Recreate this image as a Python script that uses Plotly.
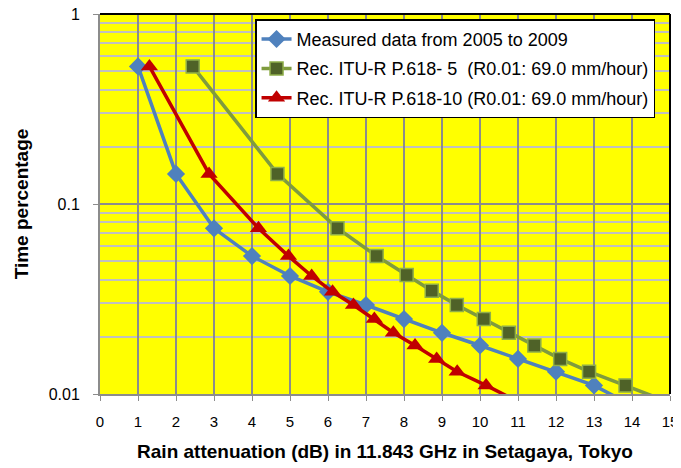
import plotly.graph_objects as go

# ---- data ----
measured_att = [1, 2, 3, 4, 5, 6, 7, 8, 9, 10, 11, 12, 13, 14]
measured_pct = [0.53, 0.144, 0.0745, 0.0532, 0.0418, 0.0345, 0.0294, 0.0248, 0.021, 0.018, 0.0153, 0.0131, 0.0111, 0.0087]

itu5_att = [2.44, 4.67, 6.25, 7.28, 8.07, 8.73, 9.39, 10.1, 10.76, 11.43, 12.11, 12.87, 13.83, 15.2]
itu5_pct = [0.53, 0.144, 0.0745, 0.0532, 0.0423, 0.035, 0.0294, 0.0248, 0.021, 0.018, 0.0153, 0.0131, 0.0111, 0.0087]

itu10_att = [1.30, 2.87, 4.17, 4.96, 5.57, 6.12, 6.67, 7.22, 7.72, 8.29, 8.86, 9.40, 10.16, 11.2]
itu10_pct = [0.53, 0.144, 0.0745, 0.0532, 0.0418, 0.0345, 0.0294, 0.0248, 0.021, 0.018, 0.0153, 0.0131, 0.0111, 0.0087]

names = ["Measured data from 2005 to 2009",
         "Rec. ITU-R P.618- 5  (R0.01: 69.0 mm/hour)",
         "Rec. ITU-R P.618-10 (R0.01: 69.0 mm/hour)"]

x_tickvals = list(range(0, 16))
y_tickvals = [0.01, 0.1, 1]
y_ticktext = ["0.01", "0.1", "1"]

FONT = "Liberation Sans, Arial, sans-serif"

fig = go.Figure()
fig.add_trace(go.Scatter(
    x=measured_att, y=measured_pct, name=names[0], mode="lines+markers",
    line=dict(color="#4F81BD", width=3.5),
    marker=dict(symbol="diamond", size=14, color="#4F81BD"),
    legendgroup="a"))
fig.add_trace(go.Scatter(
    x=itu5_att, y=itu5_pct, name=names[1], mode="lines+markers",
    line=dict(color="#7F9B3E", width=3.5),
    marker=dict(symbol="square", size=13, color="#4F6228",
                line=dict(color="#8FAE4A", width=1.5)),
    legendgroup="b"))
fig.add_trace(go.Scatter(
    x=itu10_att, y=itu10_pct, name=names[2], mode="lines+markers",
    line=dict(color="#C00000", width=3.5),
    marker=dict(symbol="triangle-up", size=15, color="#C00000"),
    legendgroup="c"))

# the page body adds an 8px offset, so the figure is sized/margined to compensate
fig.update_layout(
    width=673, height=460,
    margin=dict(l=92, r=11, t=6, b=74),
    paper_bgcolor="white", plot_bgcolor="#FFFF00",
    font=dict(family=FONT, color="black"),
    showlegend=True,
    legend=dict(x=0.272, y=0.986, xanchor="left", yanchor="top",
                bgcolor="white", bordercolor="black", borderwidth=1.5,
                font=dict(size=18, family=FONT), tracegroupgap=3,
                itemwidth=30),
    xaxis=dict(range=[0, 15], tickvals=x_tickvals, showgrid=True,
               gridcolor="#8C8C8C", gridwidth=1.5, automargin=False,
               showline=True, linecolor="#8C8C8C", linewidth=2,
               ticks="outside", ticklen=5, tickcolor="#8C8C8C",
               tickfont=dict(size=15), ticklabelstandoff=8,
               ticklabeloverflow="allow",
               title=dict(text="<b>Rain attenuation (dB) in 11.843 GHz in Setagaya, Tokyo</b>",
                          font=dict(size=19), standoff=16),
               zeroline=False),
    yaxis=dict(type="log", range=[-2, 0], tickvals=y_tickvals, ticktext=y_ticktext,
               showgrid=True, gridcolor="#8C8C8C", gridwidth=1.5, automargin=False,
               minor=dict(dtick="D1", showgrid=True, gridcolor="#C0C0C0", gridwidth=1.5,
                          ticks=""),
               showline=True, linecolor="#8C8C8C", linewidth=2,
               ticks="outside", ticklen=5, tickcolor="#8C8C8C",
               tickfont=dict(size=16), ticklabelstandoff=10,
               ticklabeloverflow="allow",
               title=dict(text="<b>Time percentage</b>", font=dict(size=19), standoff=15),
               zeroline=False),
)

# black frame on the top and right edges of the plot area
fig.add_shape(type="line", xref="paper", yref="paper", x0=0, x1=1, y0=1, y1=1,
              line=dict(color="black", width=2), layer="above")
fig.add_shape(type="line", xref="paper", yref="paper", x0=1, x1=1, y0=0, y1=1,
              line=dict(color="black", width=2), layer="above")

fig.write_html("out.html")
